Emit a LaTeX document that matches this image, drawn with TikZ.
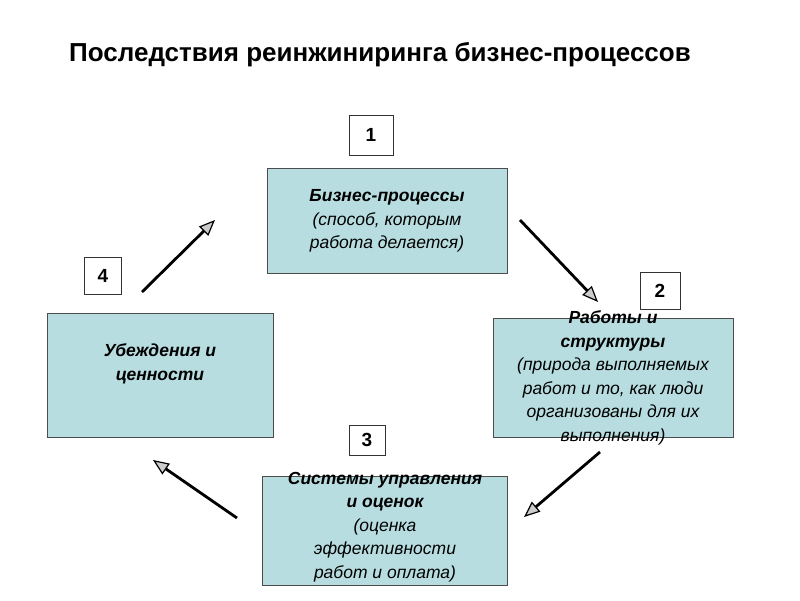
\documentclass[tikz,border=0pt]{standalone}
\usepackage{fontspec}
\setmainfont{Liberation Sans}
\usetikzlibrary{arrows.meta}
\definecolor{boxfill}{HTML}{B7DDE0}
\begin{document}
\begin{tikzpicture}[x=1pt,y=-1pt,
 box/.style={draw=black!70,fill=boxfill,line width=0.7pt},
 num/.style={draw=black!80,fill=white,line width=0.7pt,font=\fontsize{19}{22}\selectfont\bfseries},
 txt/.style={align=center,font=\fontsize{17.5}{23.5}\selectfont\itshape},
 arr/.style={line width=2.8pt,-{Triangle[length=16pt,width=13pt,fill=gray!40,line width=1.2pt]}}]
\useasboundingbox (0,0) rectangle (800,600);
\node[font=\fontsize{26}{30}\selectfont\bfseries] (title) at (380,55) {Последствия реинжиниринга бизнес-процессов};
\path[box] (267,168) rectangle (507,273) coordinate (b1);
\path[box] (493,318) rectangle (733,437) coordinate (b2);
\path[box] (262,476) rectangle (507,585) coordinate (b3);
\path[box] (47,313) rectangle (273,437) coordinate (b4);
\node[txt] (t1) at (387,221) {\bfseries Бизнес-процессы\\(способ, которым\\работа делается)};
\node[txt] (t2) at (613,378) {\bfseries Работы и\\\bfseries структуры\\(природа выполняемых\\работ и то, как люди\\организованы для их\\выполнения)};
\node[txt] (t3) at (385,527) {\bfseries Системы управления\\\bfseries и оценок\\(оценка\\эффективности\\работ и оплата)};
\node[txt] (t4) at (160,364) {\bfseries Убеждения и\\\bfseries ценности};
\node[num,minimum width=44pt,minimum height=40pt] (n1) at (371,135) {1};
\node[num,minimum width=40pt,minimum height=37pt] (n2) at (660,291) {2};
\node[num,minimum width=36pt,minimum height=30pt] (n3) at (367,440) {3};
\node[num,minimum width=37pt,minimum height=37pt] (n4) at (103,276) {4};
\coordinate (a1s) at (142,292); \coordinate (a1e) at (215,220);
\coordinate (a2s) at (520,220); \coordinate (a2e) at (598,302);
\coordinate (a3s) at (600,452); \coordinate (a3e) at (524,517);
\coordinate (a4s) at (237,518); \coordinate (a4e) at (153,460);
\draw[arr] (a1s) -- (a1e);
\draw[arr] (a2s) -- (a2e);
\draw[arr] (a3s) -- (a3e);
\draw[arr] (a4s) -- (a4e);
\end{tikzpicture}
\end{document}
